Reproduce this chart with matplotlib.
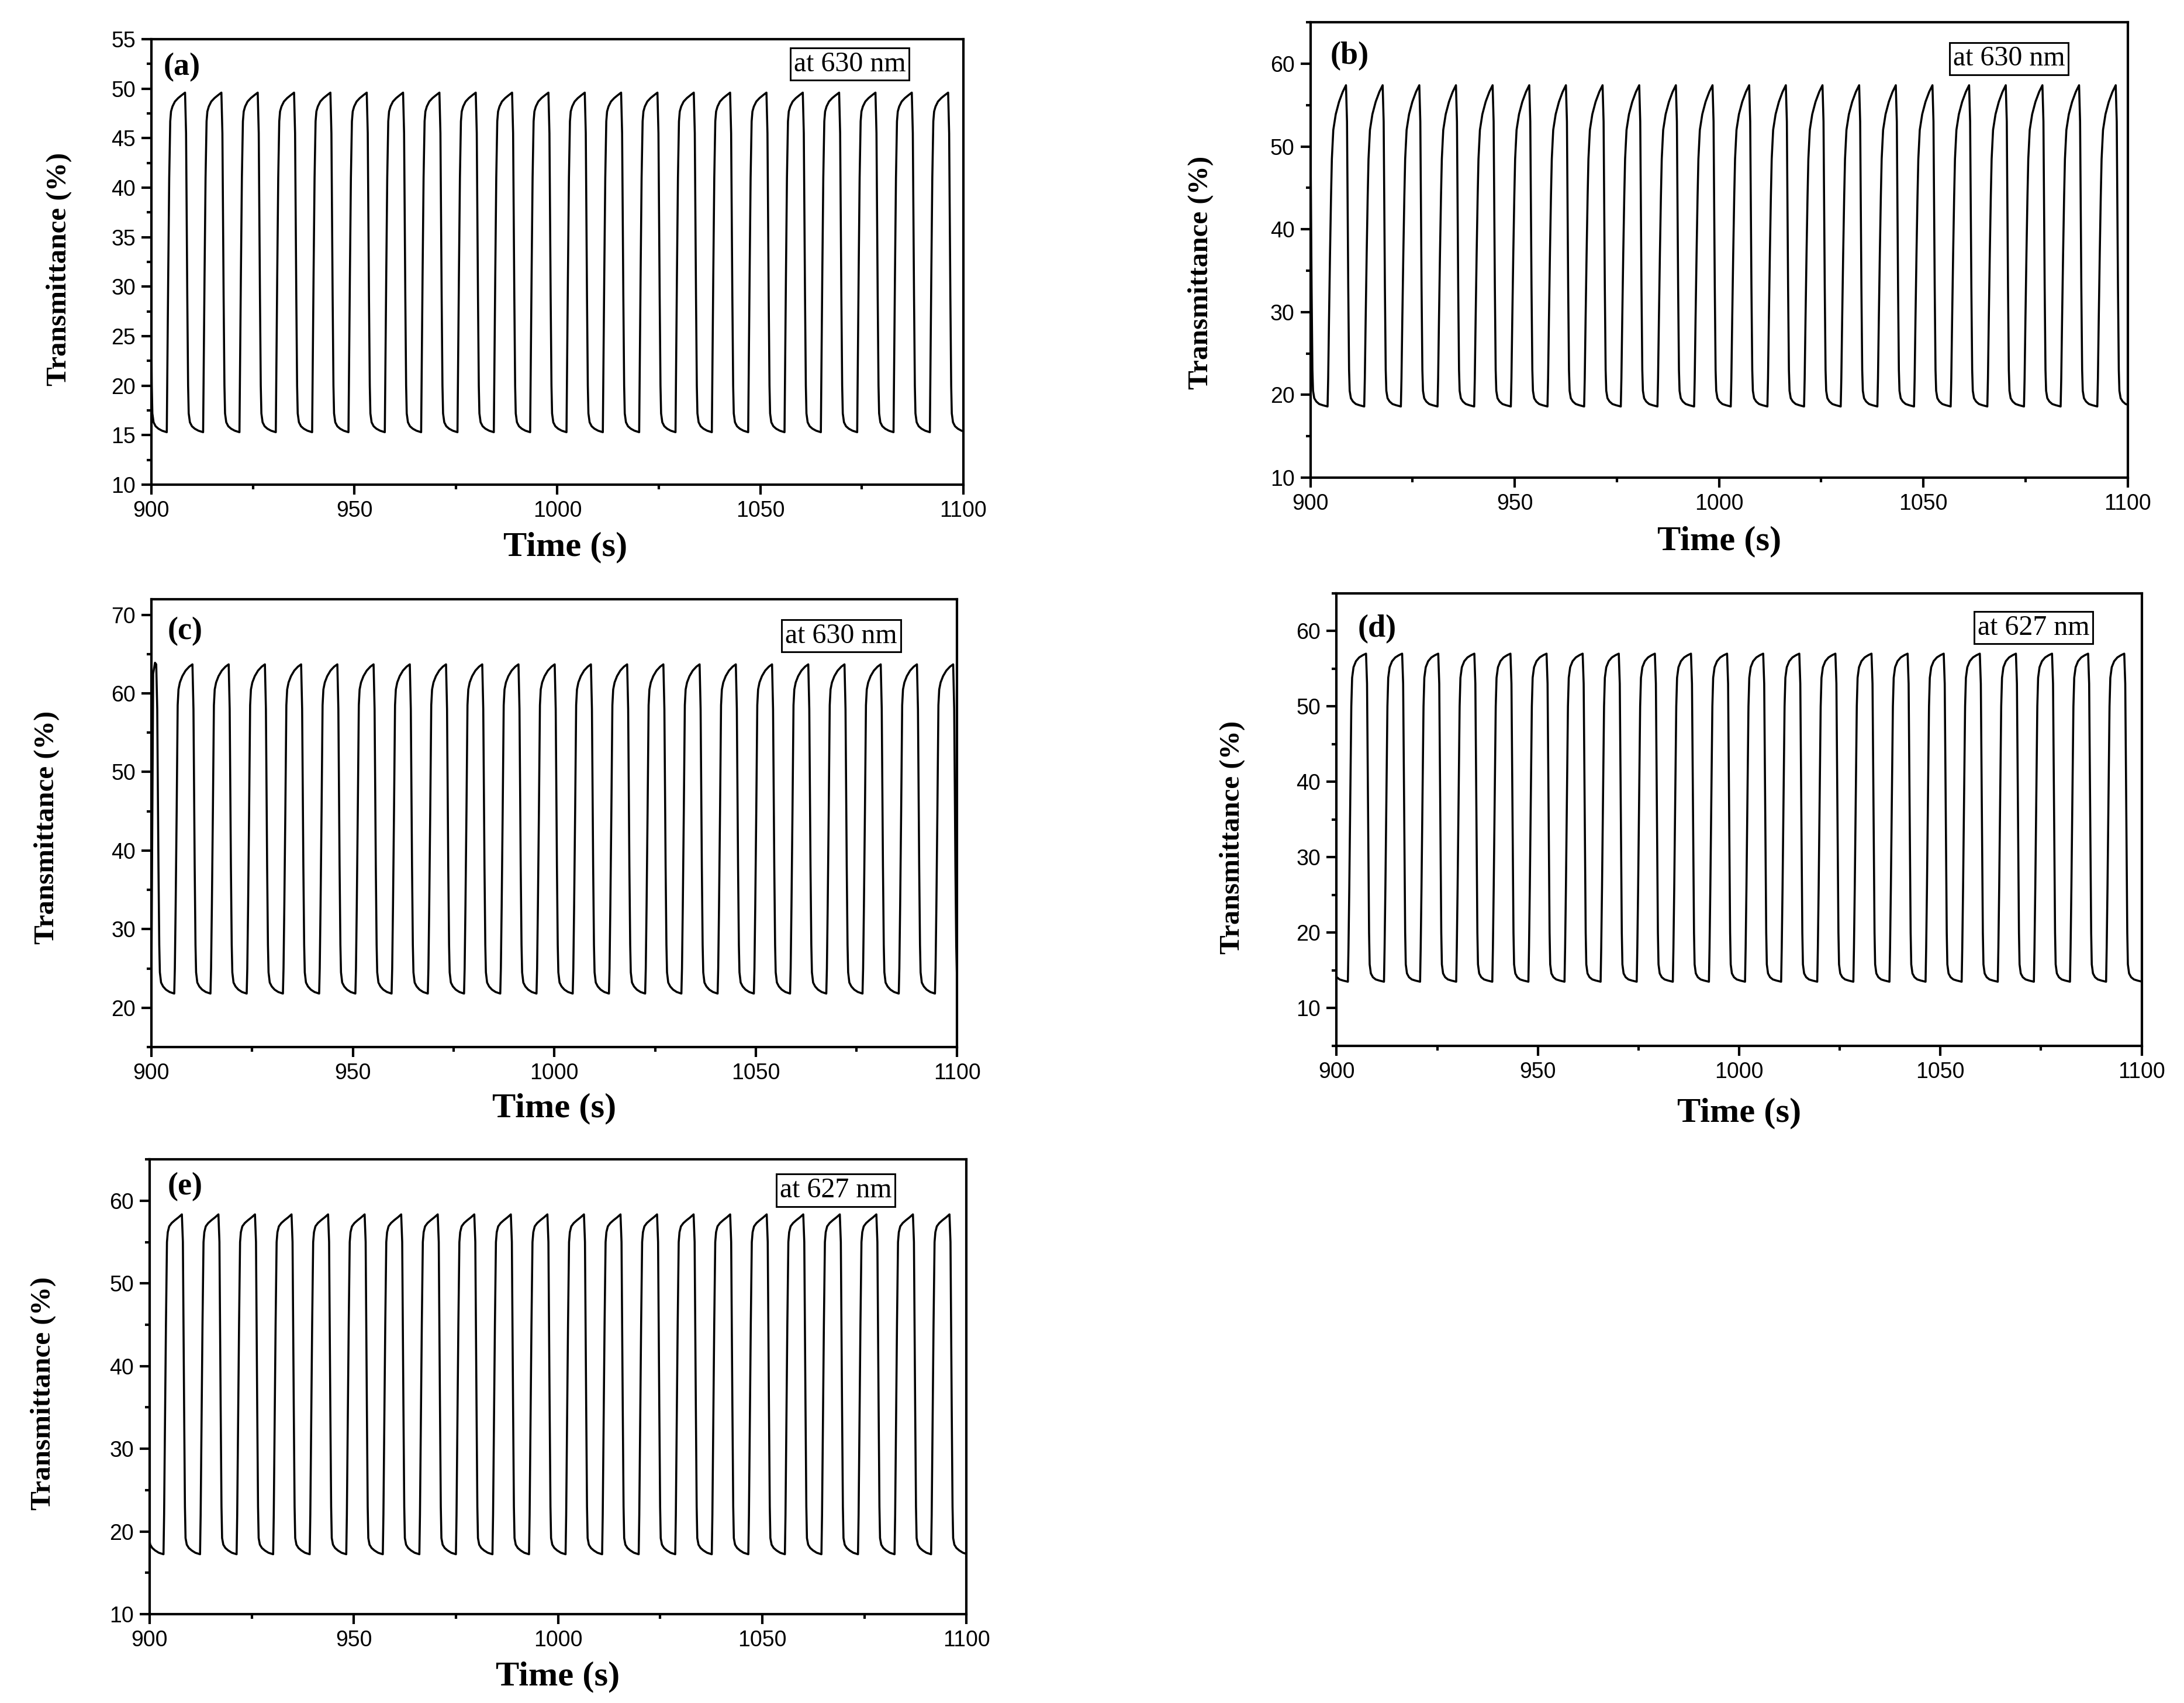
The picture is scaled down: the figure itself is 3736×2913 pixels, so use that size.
import numpy as np
import matplotlib
matplotlib.use("Agg")
import matplotlib.pyplot as plt
from matplotlib.ticker import MultipleLocator

# ---- data ------------------------------------------------------------------
t_start, t_end = 900.0, 1100.0

panel_tags = ["(a)", "(b)", "(c)", "(d)", "(e)"]
wavelengths = ["at 630 nm", "at 630 nm", "at 630 nm", "at 627 nm", "at 627 nm"]
ylims = [(10, 55), (10, 65), (15, 72), (5, 65), (10, 65)]
ymajor = [5, 10, 10, 10, 10]
xticks = [900, 950, 1000, 1050, 1100]

# one switching cycle: seconds after the transmittance minimum
cycle_s = [0.0, 0.15, 0.35, 0.6, 0.85, 1.05, 1.4, 2.0, 2.8, 3.7, 4.5,
           4.75, 4.9, 5.05, 5.25, 5.4, 5.7, 6.2, 6.9, 7.8, 8.95]

# transmittance (%) along that cycle, per panel
cycle_a = [15.3, 22, 31, 41, 46.7, 47.7, 48.2, 48.7, 49.05, 49.35, 49.6,
           45.5, 37.5, 29, 20, 17.2, 16.3, 15.9, 15.65, 15.45, 15.3]
cycle_b = [18.6, 22, 29, 37, 44, 48.5, 52, 53.9, 55.4, 56.6, 57.4,
           53, 43, 33, 23, 20.5, 19.6, 19.2, 18.9, 18.75, 18.6]
cycle_c = [21.8, 25, 33, 45, 58.5, 60.5, 61.4, 62.2, 62.9, 63.4, 63.7,
           58, 48, 38, 28, 24.5, 23.2, 22.7, 22.3, 22.0, 21.8]
cycle_d = [13.5, 18, 26, 38, 50, 53.8, 55.2, 56.0, 56.5, 56.8, 57.0,
           53, 43, 32, 20, 15.8, 14.6, 14.1, 13.8, 13.65, 13.5]
cycle_e = [17.24, 22, 32, 45, 55.0, 56.2, 56.9, 57.3, 57.65, 58.0, 58.35,
           55, 45, 35, 23, 19.2, 18.4, 18.0, 17.7, 17.42, 17.24]
cycles = [cycle_a, cycle_b, cycle_c, cycle_d, cycle_e]

# time of the first minimum after 900 s and the cycle period (s)
first_min = [903.8, 904.2, 905.68, 902.8, 903.4]
periods = [8.95, 8.97, 8.99, 8.97, 8.95]

# points recorded before the regular cycling starts (panel c starts with a spike)
lead_t = [[], [], [900.0, 900.45, 900.9], [], []]
lead_v = [[], [], [23.0, 62.5, 63.9], [], []]

# axes boxes in figure fractions [left, bottom, width, height]
boxes = [
    [0.0693, 0.7154, 0.3718, 0.2616],
    [0.6000, 0.7195, 0.3742, 0.2674],
    [0.0693, 0.3852, 0.3690, 0.2630],
    [0.6120, 0.3859, 0.3686, 0.2657],
    [0.0685, 0.0522, 0.3740, 0.2670],
]
tag_pos = [(0.015, 0.937), (0.024, 0.926), (0.02, 0.928), (0.026, 0.921), (0.022, 0.94)]
wl_pos = [(0.86, 0.944), (0.855, 0.92), (0.856, 0.918), (0.866, 0.924), (0.84, 0.932)]
ylab_pos = [(-0.114, 0.484), (-0.134, 0.45), (-0.13, 0.49), (-0.13, 0.46), (-0.13, 0.486)]
xlab_pos = [(0.51, -0.105), (0.5, -0.106), (0.5, -0.103), (0.5, -0.114), (0.5, -0.104)]


def build_series(t_min0, period, vals, lt, lv):
    s = np.asarray(cycle_s) * period / cycle_s[-1]
    v = np.asarray(vals, dtype=float)
    ts, ys = list(lt), list(lv)
    t0 = t_min0 - period
    while t0 < t_end + period:
        for si, vi in zip(s[:-1], v[:-1]):
            t = t0 + si
            if lt and t <= lt[-1]:
                continue
            ts.append(t)
            ys.append(vi)
        t0 += period
    return np.array(ts), np.array(ys)


serif = ["Liberation Serif", "DejaVu Serif"]
sans = ["Liberation Sans", "DejaVu Sans"]

fig = plt.figure(figsize=(3736 / 300, 2913 / 300), dpi=300)

for i in range(5):
    ax = fig.add_axes(boxes[i])
    t, y = build_series(first_min[i], periods[i], cycles[i], lead_t[i], lead_v[i])
    ax.plot(t, y, color="black", lw=0.85)

    ax.set_xlim(t_start, t_end)
    ax.set_ylim(*ylims[i])
    ax.set_xticks(xticks)
    ax.xaxis.set_minor_locator(MultipleLocator(25))
    ax.yaxis.set_major_locator(MultipleLocator(ymajor[i]))
    ax.yaxis.set_minor_locator(MultipleLocator(ymajor[i] / 2))

    ax.tick_params(which="both", direction="out", width=1.0, top=False, right=False)
    ax.tick_params(which="major", length=4, pad=2.5)
    ax.tick_params(which="minor", length=2)
    for lab in ax.get_xticklabels() + ax.get_yticklabels():
        lab.set_family(sans)
        lab.set_fontsize(9)
    for sp in ax.spines.values():
        sp.set_linewidth(1.0)

    ax.set_xlabel("Time (s)", family=serif, fontweight="bold", fontsize=14.5)
    ax.set_ylabel("Transmittance (%)", family=serif, fontweight="bold", fontsize=11.8)
    ax.xaxis.set_label_coords(*xlab_pos[i])
    ax.yaxis.set_label_coords(*ylab_pos[i])
    ax.yaxis.label.set_va("center")

    ax.text(*tag_pos[i], panel_tags[i], transform=ax.transAxes, family=serif,
            fontweight="bold", fontsize=13, ha="left", va="center")
    ax.text(*wl_pos[i], wavelengths[i], transform=ax.transAxes, family=serif,
            fontsize=11.5, ha="center", va="center",
            bbox=dict(boxstyle="square,pad=0.12", fc="white", ec="black", lw=0.7))

fig.savefig("out.png", dpi=300)
